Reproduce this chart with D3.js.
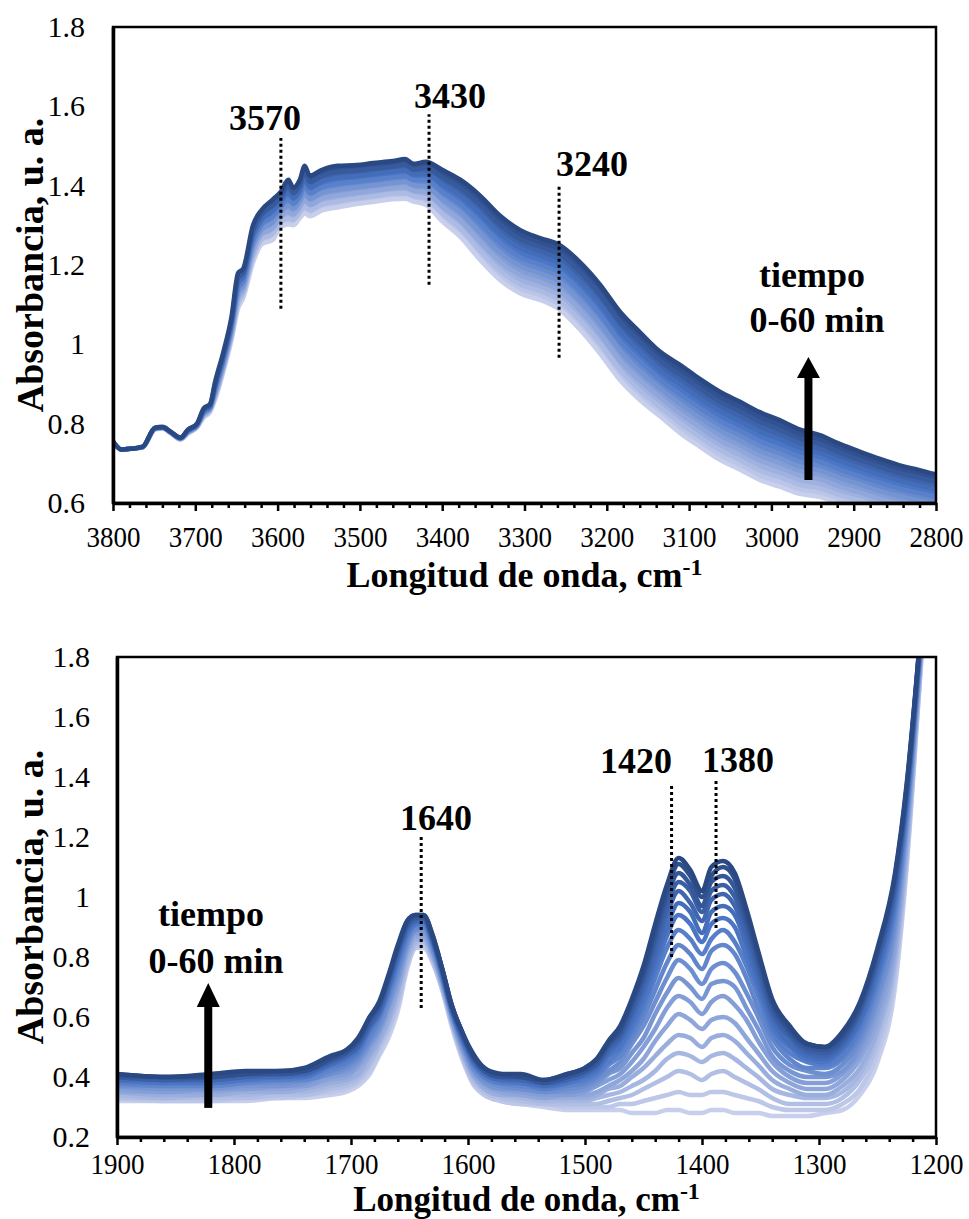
<!DOCTYPE html>
<html>
<head>
<meta charset="utf-8">
<script src="https://cdn.jsdelivr.net/npm/d3@7"></script>
<style>
  body { margin: 0; background: #fff; }
  svg { display: block; }
  text { font-family: "Liberation Serif", "Times New Roman", serif; fill: #000; }
</style>
</head>
<body>
<svg id="chart" width="969" height="1219"></svg>
<script>
// ---- panel superior: 3800-2800 cm-1, 8 espectros (0 -> 60 min)
const ondaSup = [3800,3790,3778,3764,3749,3740,3730,3718,3709,3698,3690,3682,3676,3666,3656,3648,3642,3630,3619,3606,3596,3587,3581,3573,3567,3561,3546,3527,3504,3484,3460,3445,3435,3420,3400,3378,3354,3330,3305,3281,3257,3233,3208,3184,3160,3135,3110,3087,3062,3038,3014,2990,2965,2941,2917,2892,2868,2844,2820,2800]
const sup0 = [.755,.735,.737,.740,.785,.788,.776,.760,.775,.790,.815,.830,.860,.930,1.010,1.090,1.115,1.205,1.253,1.263,1.296,1.302,1.300,1.318,1.330,1.323,1.338,1.345,1.354,1.359,1.366,1.367,1.360,1.352,1.310,1.271,1.213,1.163,1.128,1.112,1.087,1.038,.976,.910,.860,.818,.775,.742,.708,.684,.658,.641,.623,.615,.598,.585,.570,.558,.548,.540]
const sup1 = [.755,.735,.737,.740,.786,.789,.777,.761,.776,.791,.818,.833,.866,.937,1.019,1.103,1.126,1.219,1.265,1.278,1.309,1.318,1.314,1.332,1.347,1.338,1.353,1.360,1.368,1.373,1.380,1.381,1.374,1.367,1.329,1.292,1.236,1.186,1.151,1.134,1.110,1.062,1.001,.935,.884,.841,.800,.766,.733,.708,.682,.665,.646,.637,.620,.606,.590,.578,.567,.559]
const sup2 = [.755,.735,.737,.741,.786,.789,.777,.761,.778,.793,.822,.836,.873,.944,1.027,1.116,1.136,1.232,1.278,1.292,1.321,1.334,1.327,1.346,1.364,1.352,1.367,1.375,1.382,1.387,1.393,1.396,1.387,1.383,1.347,1.312,1.259,1.209,1.174,1.157,1.134,1.087,1.026,.959,.909,.865,.824,.791,.757,.733,.707,.689,.669,.660,.641,.626,.610,.597,.587,.578]
const sup3 = [.755,.735,.737,.741,.787,.790,.778,.762,.779,.794,.825,.839,.879,.951,1.036,1.129,1.147,1.246,1.290,1.307,1.334,1.350,1.341,1.360,1.381,1.367,1.382,1.390,1.396,1.401,1.407,1.410,1.401,1.398,1.366,1.333,1.282,1.232,1.197,1.179,1.157,1.111,1.051,.984,.933,.888,.849,.815,.782,.757,.731,.713,.692,.682,.663,.647,.630,.617,.606,.597]
const sup4 = [.755,.735,.737,.741,.788,.790,.778,.763,.781,.796,.828,.841,.886,.959,1.044,1.141,1.158,1.259,1.303,1.321,1.347,1.367,1.354,1.373,1.399,1.381,1.396,1.405,1.410,1.415,1.421,1.424,1.414,1.414,1.384,1.353,1.306,1.256,1.219,1.201,1.180,1.135,1.075,1.008,.958,.911,.873,.840,.806,.782,.756,.737,.716,.704,.684,.667,.651,.636,.625,.615]
const sup5 = [.755,.735,.737,.741,.789,.791,.779,.764,.782,.797,.831,.844,.892,.966,1.053,1.154,1.169,1.273,1.315,1.336,1.360,1.383,1.368,1.387,1.416,1.396,1.411,1.420,1.424,1.429,1.435,1.438,1.428,1.429,1.403,1.374,1.329,1.279,1.242,1.223,1.203,1.159,1.100,1.033,.982,.934,.898,.864,.831,.806,.780,.761,.739,.726,.706,.688,.671,.656,.644,.634]
const sup6 = [.755,.735,.737,.742,.789,.791,.779,.764,.784,.799,.835,.847,.899,.973,1.061,1.167,1.179,1.286,1.328,1.350,1.372,1.399,1.381,1.401,1.433,1.410,1.425,1.435,1.438,1.443,1.448,1.453,1.441,1.445,1.421,1.394,1.352,1.302,1.265,1.246,1.227,1.184,1.125,1.057,1.007,.958,.922,.889,.855,.831,.805,.785,.762,.749,.727,.708,.691,.675,.664,.653]
const sup7 = [.755,.735,.737,.742,.790,.792,.780,.765,.785,.800,.838,.850,.905,.980,1.070,1.180,1.190,1.300,1.340,1.365,1.385,1.415,1.395,1.415,1.450,1.425,1.440,1.450,1.452,1.457,1.462,1.467,1.455,1.460,1.440,1.415,1.375,1.325,1.288,1.268,1.250,1.208,1.150,1.082,1.031,.981,.947,.913,.880,.855,.829,.809,.785,.771,.749,.729,.711,.695,.683,.672]
const espectrosSup = [sup0, sup1, sup2, sup3, sup4, sup5, sup6, sup7]

// ---- panel inferior: 1900-1200 cm-1, 18 espectros (0 -> 60 min)
const ondaInf = [1900,1860,1820,1790,1760,1740,1718,1704,1694,1684,1676,1668,1660,1652,1645,1638,1630,1622,1614,1605,1596,1586,1572,1555,1535,1515,1500,1490,1480,1470,1460,1450,1440,1430,1420,1410,1400,1392,1382,1372,1362,1352,1340,1325,1310,1295,1280,1265,1250,1235,1225,1215,1205]
const inf0 = [.32,.32,.32,.32,.33,.33,.34,.35,.37,.41,.47,.53,.62,.76,.83,.83,.78,.69,.57,.46,.38,.34,.32,.31,.30,.29,.29,.29,.29,.29,.28,.28,.28,.29,.29,.28,.28,.29,.29,.28,.28,.28,.27,.27,.27,.28,.29,.34,.45,.70,1.10,1.65,2.20]
const inf1 = [.33,.32,.32,.33,.33,.34,.35,.36,.38,.42,.48,.55,.64,.77,.83,.84,.78,.69,.58,.47,.38,.34,.32,.31,.31,.30,.30,.30,.30,.31,.31,.32,.33,.34,.35,.34,.34,.35,.35,.34,.33,.32,.30,.29,.29,.29,.31,.36,.48,.73,1.12,1.66,2.21]
const inf2 = [.33,.33,.33,.33,.34,.34,.36,.37,.39,.44,.50,.56,.65,.78,.84,.85,.79,.70,.58,.47,.39,.35,.33,.32,.31,.31,.31,.31,.32,.33,.34,.36,.38,.40,.42,.41,.39,.41,.42,.40,.38,.36,.33,.31,.31,.31,.33,.39,.51,.76,1.14,1.67,2.22]
const inf3 = [.34,.33,.34,.34,.35,.35,.37,.38,.40,.45,.51,.58,.67,.79,.85,.86,.80,.70,.59,.48,.40,.36,.34,.33,.32,.32,.32,.33,.34,.35,.37,.39,.42,.46,.48,.47,.45,.47,.48,.46,.43,.40,.36,.34,.33,.33,.35,.41,.54,.79,1.16,1.68,2.22]
const inf4 = [.35,.34,.34,.35,.35,.36,.38,.39,.41,.47,.52,.59,.69,.81,.86,.86,.80,.71,.59,.49,.41,.36,.34,.34,.33,.33,.33,.34,.36,.37,.40,.43,.47,.51,.54,.53,.50,.53,.54,.52,.48,.44,.39,.36,.34,.34,.37,.43,.56,.81,1.18,1.70,2.23]
const inf5 = [.35,.35,.35,.36,.36,.37,.39,.40,.43,.48,.54,.61,.70,.82,.87,.87,.81,.71,.60,.49,.41,.37,.35,.34,.33,.34,.34,.35,.37,.39,.42,.46,.52,.57,.61,.59,.56,.59,.60,.58,.53,.48,.42,.38,.36,.36,.39,.46,.59,.84,1.21,1.71,2.24]
const inf6 = [.36,.35,.36,.36,.37,.37,.40,.41,.44,.50,.55,.63,.72,.83,.88,.88,.82,.72,.60,.50,.42,.38,.36,.35,.34,.34,.35,.37,.39,.41,.45,.50,.56,.63,.67,.65,.61,.65,.67,.64,.59,.52,.45,.40,.38,.38,.41,.48,.62,.87,1.23,1.72,2.25]
const inf7 = [.37,.36,.36,.37,.37,.38,.41,.42,.45,.51,.56,.64,.73,.84,.89,.89,.82,.72,.61,.51,.43,.38,.36,.36,.35,.35,.36,.38,.41,.43,.48,.53,.61,.68,.73,.70,.66,.71,.72,.70,.63,.56,.47,.42,.40,.40,.42,.50,.65,.90,1.25,1.73,2.25]
const inf8 = [.37,.37,.37,.38,.38,.39,.41,.43,.46,.52,.57,.65,.75,.85,.89,.90,.83,.73,.61,.51,.43,.39,.37,.36,.35,.36,.37,.39,.42,.45,.51,.57,.65,.73,.79,.76,.71,.76,.78,.75,.68,.60,.50,.44,.42,.41,.44,.52,.67,.92,1.27,1.74,2.26]
const inf9 = [.38,.37,.37,.38,.39,.39,.42,.44,.47,.53,.59,.67,.76,.86,.90,.90,.84,.73,.62,.52,.44,.40,.38,.37,.36,.37,.38,.40,.44,.47,.53,.60,.69,.78,.84,.81,.76,.82,.84,.81,.73,.63,.53,.46,.43,.43,.46,.54,.70,.95,1.28,1.75,2.27]
const inf10 = [.38,.38,.38,.39,.39,.40,.43,.45,.48,.55,.60,.68,.78,.87,.91,.91,.84,.74,.62,.52,.45,.40,.38,.38,.36,.38,.39,.41,.45,.49,.55,.63,.73,.83,.89,.86,.81,.86,.89,.85,.77,.67,.55,.48,.45,.44,.47,.56,.72,.97,1.30,1.76,2.27]
const inf11 = [.39,.38,.38,.39,.40,.40,.44,.46,.49,.56,.61,.69,.79,.88,.91,.92,.85,.74,.62,.53,.45,.41,.39,.38,.37,.38,.40,.42,.47,.50,.57,.65,.76,.87,.94,.91,.85,.91,.93,.90,.80,.70,.57,.50,.46,.45,.49,.58,.74,.99,1.32,1.77,2.28]
const inf12 = [.39,.39,.39,.40,.40,.41,.44,.47,.50,.57,.61,.70,.80,.89,.92,.92,.85,.75,.63,.53,.46,.41,.39,.39,.37,.39,.41,.43,.48,.52,.59,.68,.79,.90,.98,.95,.88,.95,.97,.94,.84,.72,.59,.51,.47,.46,.50,.59,.76,1.01,1.33,1.77,2.28]
const inf13 = [.40,.39,.39,.40,.41,.41,.45,.47,.50,.57,.62,.71,.81,.90,.92,.93,.86,.75,.63,.54,.46,.42,.40,.39,.38,.39,.41,.44,.49,.53,.61,.70,.82,.94,1.02,.98,.92,.99,1.01,.97,.87,.75,.61,.53,.48,.47,.51,.61,.78,1.03,1.34,1.78,2.29]
const inf14 = [.40,.39,.40,.41,.41,.42,.45,.48,.51,.58,.63,.72,.82,.90,.93,.93,.86,.75,.63,.54,.47,.42,.40,.40,.38,.40,.42,.44,.50,.54,.62,.72,.85,.97,1.05,1.02,.95,1.02,1.04,1.00,.90,.77,.62,.54,.49,.48,.52,.62,.79,1.04,1.35,1.79,2.29]
const inf15 = [.40,.40,.40,.41,.41,.42,.46,.48,.52,.59,.64,.73,.83,.91,.93,.93,.86,.76,.64,.55,.47,.42,.40,.40,.38,.40,.42,.45,.51,.55,.64,.74,.87,1.00,1.08,1.04,.97,1.05,1.07,1.03,.92,.79,.64,.55,.50,.49,.53,.63,.81,1.06,1.36,1.79,2.29]
const inf16 = [.41,.40,.40,.41,.42,.42,.46,.49,.52,.60,.64,.73,.83,.92,.94,.94,.87,.76,.64,.55,.47,.43,.41,.40,.39,.41,.43,.46,.51,.56,.65,.75,.89,1.02,1.11,1.07,1.00,1.07,1.10,1.06,.94,.81,.65,.56,.51,.50,.54,.64,.82,1.07,1.37,1.80,2.30]
const inf17 = [.41,.40,.41,.42,.42,.43,.47,.49,.53,.60,.65,.74,.84,.92,.94,.94,.87,.76,.64,.55,.48,.43,.41,.41,.39,.41,.43,.46,.52,.57,.66,.77,.91,1.04,1.13,1.09,1.02,1.10,1.12,1.08,.96,.82,.66,.57,.51,.50,.55,.65,.83,1.08,1.38,1.80,2.30]
const espectrosInf = [inf0, inf1, inf2, inf3, inf4, inf5, inf6, inf7, inf8, inf9, inf10, inf11, inf12, inf13, inf14, inf15, inf16, inf17]

// ---- ejes
const ticksXSup = [3800, 3700, 3600, 3500, 3400, 3300, 3200, 3100, 3000, 2900, 2800]
const ticksYSup = [0.6, 0.8, 1, 1.2, 1.4, 1.6, 1.8]
const ticksXInf = [1900, 1800, 1700, 1600, 1500, 1400, 1300, 1200]
const ticksYInf = [0.2, 0.4, 0.6, 0.8, 1, 1.2, 1.4, 1.6, 1.8]

const FUENTE = '"Liberation Serif", "Times New Roman", serif'
const svg = d3.select('#chart')
const colorTiempo = d3.scaleLinear()
  .domain([0, 0.65, 1])
  .range(['#c8cfec', '#4a75c5', '#2a4882'])

function dibujarPanel(p) {
  const x = d3.scaleLinear().domain(p.xDom).range([p.left, p.right])
  const y = d3.scaleLinear().domain(p.yDom).range([p.bottom, p.top])
  const n = p.espectros.length

  svg.append('clipPath').attr('id', 'clip-' + p.id)
    .append('rect')
    .attr('x', p.left).attr('y', p.top)
    .attr('width', p.right - p.left).attr('height', p.bottom - p.top)

  const g = svg.append('g').attr('clip-path', `url(#clip-${p.id})`)

  // bandas entre espectros consecutivos (solo panel superior)
  if (p.relleno) {
    const area = d3.area()
      .x((d, i) => x(p.onda[i]))
      .y0(d => y(d[0]))
      .y1(d => y(d[1]))
      .curve(d3.curveMonotoneX)
    for (let k = 1; k < n; k++) {
      const pares = p.espectros[k].map((v, i) => [p.espectros[k - 1][i], v])
      g.append('path').datum(pares)
        .attr('d', area)
        .attr('fill', colorTiempo((k - 0.5) / (n - 1)))
    }
  }

  const linea = d3.line()
    .x((d, i) => x(p.onda[i]))
    .y(d => y(d))
    .curve(d3.curveMonotoneX)

  g.selectAll('path.esp')
    .data(p.espectros)
    .join('path')
    .attr('class', 'esp')
    .attr('d', linea)
    .attr('fill', 'none')
    .attr('stroke', (d, i) => colorTiempo(i / (n - 1)))
    .attr('stroke-width', 4.5)
    .attr('stroke-linejoin', 'round')

  // marco
  svg.append('rect')
    .attr('x', p.left).attr('y', p.top)
    .attr('width', p.right - p.left).attr('height', p.bottom - p.top)
    .attr('fill', 'none').attr('stroke', '#000').attr('stroke-width', 2.5)

  // eje x: menores cada 20, mayores cada 100
  const menores = d3.range(p.xDom[1], p.xDom[0] + 1, 20).filter(v => !p.ticksX.includes(v))
  const ejeMenor = svg.append('g').attr('transform', `translate(0,${p.bottom})`)
    .call(d3.axisBottom(x).tickValues(menores).tickSize(5).tickSizeOuter(0).tickFormat(''))
  ejeMenor.select('.domain').remove()
  ejeMenor.selectAll('.tick line').attr('stroke-width', 2.5)

  const ejeX = svg.append('g').attr('transform', `translate(0,${p.bottom})`)
    .call(d3.axisBottom(x).tickValues(p.ticksX).tickSize(8).tickSizeOuter(0).tickFormat(d => d))
  ejeX.attr('font-family', FUENTE)
  ejeX.select('.domain').attr('stroke-width', 3.5)
  ejeX.selectAll('.tick line').attr('stroke-width', 2.5)
  ejeX.selectAll('.tick text')
    .attr('y', p.labelX).attr('dy', 0)
    .attr('font-size', 30)
    .style('font-family', FUENTE)
    .attr('transform', 'scale(0.9,1)')

  const ejeY = svg.append('g').attr('transform', `translate(${p.left},0)`)
    .call(d3.axisLeft(y).tickValues(p.ticksY).tickSize(0).tickSizeOuter(0).tickPadding(p.padY).tickFormat(d => String(d)))
  ejeY.attr('font-family', FUENTE)
  ejeY.select('.domain').attr('stroke-width', 3.5)
  ejeY.selectAll('.tick text')
    .attr('font-size', 30)
    .style('font-family', FUENTE)

  // titulos de ejes
  const tx = svg.append('text')
    .attr('x', (p.left + p.right) / 2).attr('y', p.tituloX)
    .attr('text-anchor', 'middle')
    .attr('font-size', p.tamTitulo).attr('font-weight', 'bold')
  tx.append('tspan').text('Longitud de onda, cm')
  tx.append('tspan').attr('dy', -12).attr('font-size', 24).text('-1')

  svg.append('text')
    .attr('transform', `translate(43,${(p.top + p.bottom) / 2}) rotate(-90)`)
    .attr('text-anchor', 'middle')
    .attr('font-size', 38).attr('font-weight', 'bold')
    .text('Absorbancia, u. a.')

  // marcas de bandas
  p.marcas.forEach(m => {
    svg.append('line')
      .attr('x1', x(m.w)).attr('x2', x(m.w))
      .attr('y1', y(m.v0)).attr('y2', y(m.v1))
      .attr('stroke', '#000').attr('stroke-width', 3)
      .attr('stroke-dasharray', '3,3')
    svg.append('text')
      .attr('x', m.tx).attr('y', m.ty)
      .attr('text-anchor', 'middle')
      .attr('font-size', 36).attr('font-weight', 'bold')
      .text(m.t)
  })

  // flecha de tiempo
  const f = p.flecha
  const cx = x(f.w), yTop = y(f.vTop), yBase = y(f.vBase), yBot = y(f.vBot)
  svg.append('rect')
    .attr('x', cx - 4).attr('y', yBase - 1)
    .attr('width', 8).attr('height', yBot - yBase + 1)
    .attr('fill', '#000')
  svg.append('path')
    .attr('d', `M${cx - 11.5},${yBase}L${cx + 11.5},${yBase}L${cx},${yTop}Z`)
    .attr('fill', '#000')
  ;['tiempo', '0-60 min'].forEach((t, i) => {
    svg.append('text')
      .attr('x', f.tx[i]).attr('y', f.ty[i])
      .attr('text-anchor', 'middle')
      .attr('font-size', 36).attr('font-weight', 'bold')
      .text(t)
  })
}

dibujarPanel({
  id: 'sup', onda: ondaSup, espectros: espectrosSup, relleno: true,
  xDom: [3800, 2800], yDom: [0.6, 1.8],
  left: 113, right: 936, top: 27, bottom: 503,
  ticksX: ticksXSup, ticksY: ticksYSup,
  labelX: 44, padY: 28, tituloX: 587, tamTitulo: 36,
  marcas: [
    { t: '3570', w: 3596, v0: 1.09, v1: 1.52, tx: 265, ty: 130 },
    { t: '3430', w: 3416, v0: 1.15, v1: 1.58, tx: 450, ty: 108 },
    { t: '3240', w: 3258, v0: 0.966, v1: 1.397, tx: 592, ty: 176 }
  ],
  flecha: { w: 2955, vTop: 0.968, vBase: 0.915, vBot: 0.658, tx: [812, 817], ty: [287, 332] }
})

dibujarPanel({
  id: 'inf', onda: ondaInf, espectros: espectrosInf, relleno: false,
  xDom: [1900, 1200], yDom: [0.2, 1.8],
  left: 117, right: 936, top: 657, bottom: 1137,
  ticksX: ticksXInf, ticksY: ticksYInf,
  labelX: 37, padY: 27, tituloX: 1211, tamTitulo: 35,
  marcas: [
    { t: '1640', w: 1640, v0: 0.63, v1: 1.20, tx: 436, ty: 830 },
    { t: '1420', w: 1426, v0: 0.80, v1: 1.373, tx: 636, ty: 773 },
    { t: '1380', w: 1388, v0: 0.897, v1: 1.39, tx: 738, ty: 772 }
  ],
  flecha: { w: 1822, vTop: 0.713, vBase: 0.633, vBot: 0.297, tx: [211, 216], ty: [926, 973] }
})
</script>
</body>
</html>
